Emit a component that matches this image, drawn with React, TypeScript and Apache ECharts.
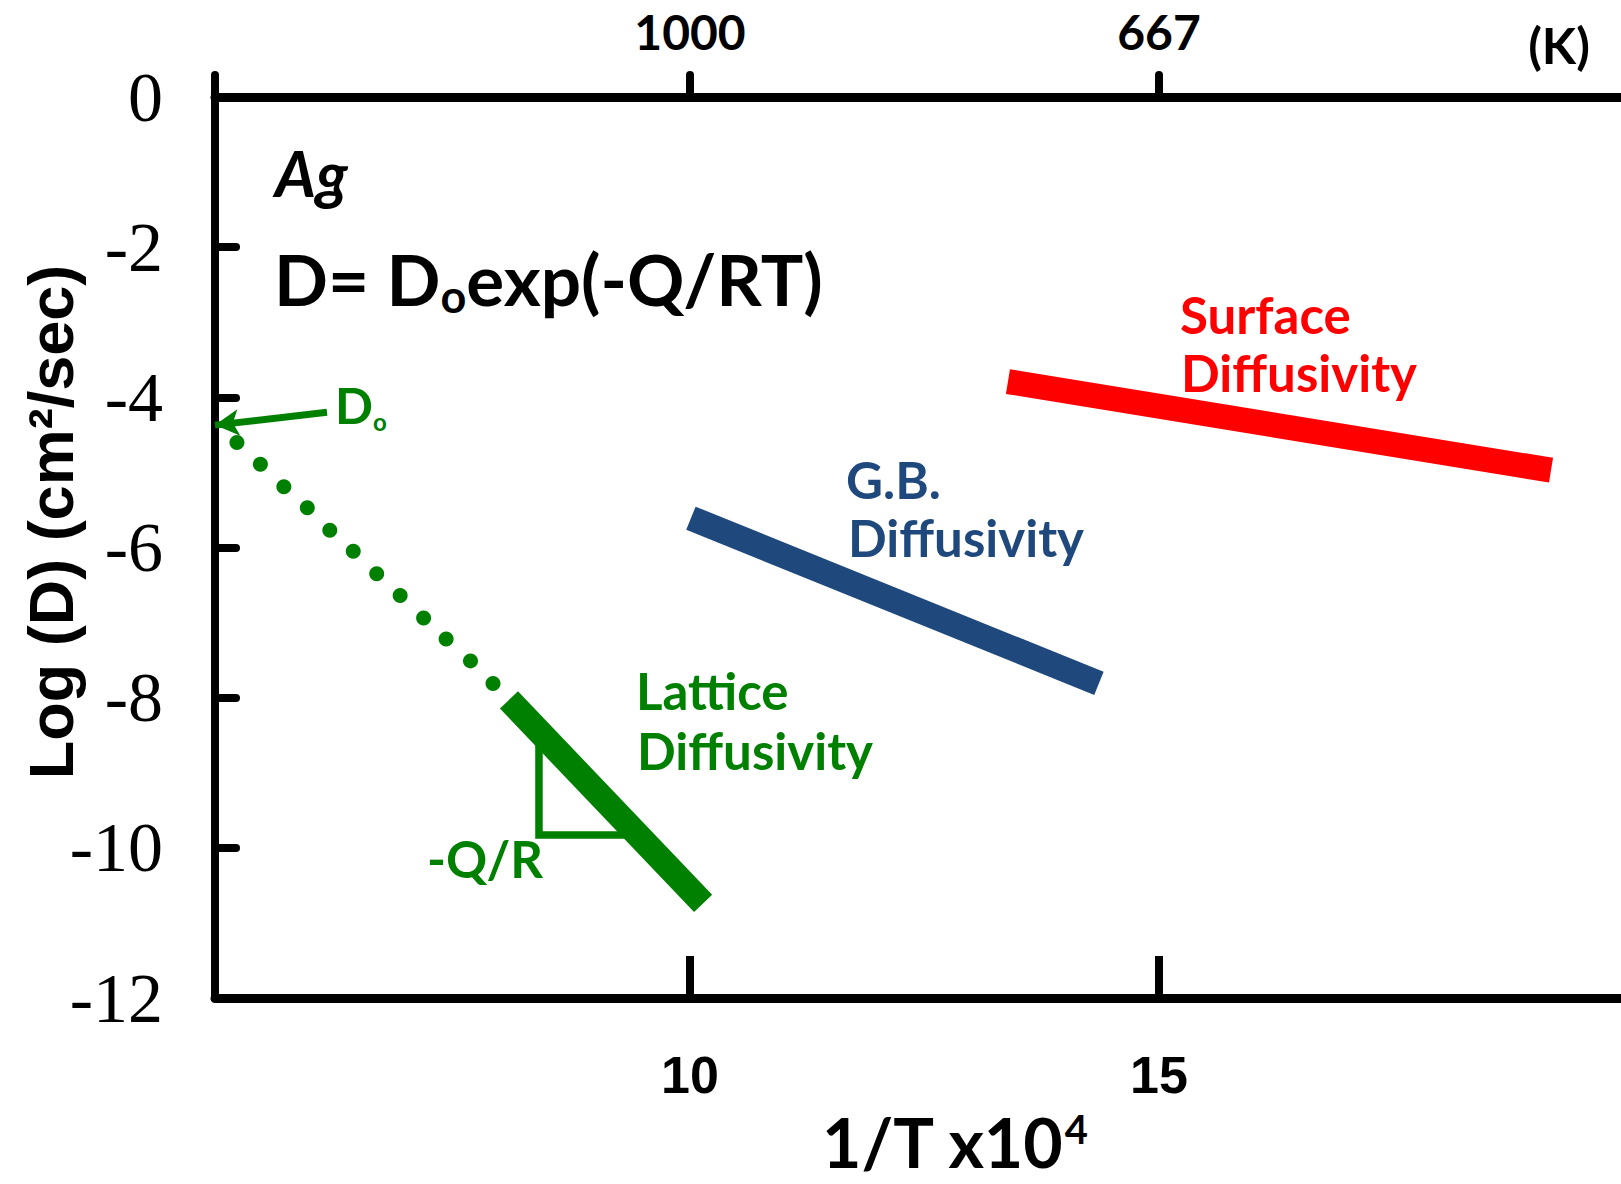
import React, { useEffect, useRef } from "react";
import * as echarts from "echarts";

// ---- axes ----
const X_MIN = 4.936;
const X_MAX = 19.926;
const Y_MIN = -12;
const Y_MAX = 0;
const Y_INTERVAL = 2;

const bottomTickValues = [10, 15];
const topTickValues = [10, 15];
const topTickLabels = ["1000", "667"];

// ---- data (1/T x10^4, log D) ----
const latticeLine = [
  [8.07, -8.03],
  [10.14, -10.74],
];
const gbLine = [
  [10.01, -5.61],
  [14.36, -7.81],
];
const surfaceLine = [
  [13.39, -3.79],
  [19.18, -4.97],
];
const extrapolationDots = [
  [5.17, -4.6],
  [5.42, -4.89],
  [5.67, -5.19],
  [5.92, -5.47],
  [6.16, -5.77],
  [6.41, -6.05],
  [6.66, -6.35],
  [6.91, -6.64],
  [7.16, -6.94],
  [7.4, -7.22],
  [7.66, -7.51],
  [7.9, -7.81],
];
const slopeTriangle = [
  [8.39, -8.44],
  [8.39, -9.83],
  [9.36, -9.83],
];
const d0ArrowFrom = [6.13, -4.2];
const d0ArrowTo = [X_MIN, -4.37];

const GREEN = "#008000";
const BLUE = "#1F497D";
const RED = "#FF0000";
const FONT = "Lato, 'Open Sans', 'DejaVu Sans', sans-serif";

function txt(x: number, y: number, text: string, fill: string, size: number, extra: any = {}) {
  return {
    type: "text",
    x,
    y,
    z: 100,
    style: {
      text,
      fill,
      fontSize: size,
      fontFamily: FONT,
      fontWeight: "bold",
      align: "left",
      verticalAlign: "middle",
      ...extra,
    },
  };
}

export default function App() {
  const ref = useRef<HTMLDivElement>(null);

  useEffect(() => {
    if (!ref.current) return;
    const chart = echarts.init(ref.current, null, { renderer: "svg" });

    const option: any = {
      animation: false,
      backgroundColor: "#fff",
      grid: { left: 215, right: 0, top: 97, bottom: 186, containLabel: false },
      xAxis: [
        {
          type: "value",
          position: "bottom",
          min: X_MIN,
          max: X_MAX,
          axisLine: { show: true, onZero: false, lineStyle: { color: "#000", width: 9 } },
          axisTick: {
            show: true,
            inside: true,
            length: 42,
            customValues: bottomTickValues,
            lineStyle: { color: "#000", width: 8 },
          },
          axisLabel: {
            show: true,
            customValues: bottomTickValues,
            margin: 51,
            fontFamily: "'Liberation Sans', Arial, sans-serif",
            fontWeight: "bold",
            fontSize: 52,
            color: "#000",
            formatter: (v: number) => String(v),
          },
          splitLine: { show: false },
        },
        {
          type: "value",
          position: "top",
          min: X_MIN,
          max: X_MAX,
          axisLine: { show: true, onZero: false, lineStyle: { color: "#000", width: 9 } },
          axisTick: {
            show: true,
            inside: false,
            length: 22,
            customValues: [X_MIN, ...topTickValues],
            lineStyle: { color: "#000", width: 8, cap: "round" },
          },
          axisLabel: {
            show: true,
            customValues: topTickValues,
            margin: 42,
            fontFamily: FONT,
            fontWeight: "bold",
            fontSize: 48,
            color: "#000",
            formatter: (v: number) => {
              const i = topTickValues.findIndex((t) => Math.abs(t - v) < 1e-6);
              return i >= 0 ? topTickLabels[i] : "";
            },
          },
          splitLine: { show: false },
        },
      ],
      yAxis: {
        type: "value",
        min: Y_MIN,
        max: Y_MAX,
        interval: Y_INTERVAL,
        axisLine: { show: true, onZero: false, lineStyle: { color: "#000", width: 8, cap: "round" } },
        axisTick: {
          show: true,
          inside: true,
          length: 21,
          lineStyle: { color: "#000", width: 8, cap: "round" },
        },
        axisLabel: {
          show: true,
          margin: 52,
          fontFamily: "'Liberation Serif', 'Times New Roman', serif",
          fontSize: 70,
          color: "#000",
          formatter: (v: number) => String(v),
        },
        splitLine: { show: false },
      },
      series: [
        {
          name: "slope",
          type: "line",
          data: slopeTriangle,
          symbol: "none",
          z: 1,
          lineStyle: { color: GREEN, width: 7.5, cap: "butt", join: "miter" },
          silent: true,
        },
        {
          name: "Lattice",
          type: "line",
          data: latticeLine,
          symbol: "none",
          z: 3,
          lineStyle: { color: GREEN, width: 25, cap: "butt" },
          silent: true,
        },
        {
          name: "Extrapolation",
          type: "scatter",
          data: extrapolationDots,
          symbol: "circle",
          symbolSize: 15,
          z: 3,
          itemStyle: { color: GREEN, opacity: 1 },
          silent: true,
          markLine: {
            silent: true,
            symbol: ["none", "arrow"],
            symbolSize: [20, 24],
            label: { show: false },
            lineStyle: { color: GREEN, width: 7, type: "solid", opacity: 1 },
            data: [[{ coord: d0ArrowFrom }, { coord: d0ArrowTo }]],
          },
        },
        {
          name: "G.B.",
          type: "line",
          data: gbLine,
          symbol: "none",
          z: 3,
          lineStyle: { color: BLUE, width: 25, cap: "butt" },
          silent: true,
        },
        {
          name: "Surface",
          type: "line",
          data: surfaceLine,
          symbol: "none",
          z: 3,
          lineStyle: { color: RED, width: 25, cap: "butt" },
          silent: true,
        },
      ],
      graphic: [
        txt(275, 172, "Ag", "#000", 63, { fontStyle: "italic" }),
        {
          type: "text",
          x: 274,
          y: 278,
          z: 100,
          style: {
            text: "{a|D= D}{s|o}{a|exp(-Q/RT)}",
            align: "left",
            verticalAlign: "middle",
            rich: {
              a: { fontSize: 71, lineHeight: 80, fontFamily: FONT, fontWeight: "bold", fill: "#000" },
              s: { fontSize: 45, lineHeight: 40, fontFamily: FONT, fontWeight: "bold", fill: "#000", verticalAlign: "bottom" },
            },
          },
        },
        txt(1180, 314, "Surface", RED, 51),
        txt(1181, 372, "Diffusivity", RED, 51),
        txt(846, 479, "G.B.", BLUE, 51),
        txt(848, 537, "Diffusivity", BLUE, 51),
        txt(636, 690, "Lattice", GREEN, 51),
        txt(637, 750, "Diffusivity", GREEN, 51),
        txt(427, 858, "-Q/R", GREEN, 51),
        {
          type: "text",
          x: 335,
          y: 405,
          z: 100,
          style: {
            text: "{a|D}{s|o}",
            align: "left",
            verticalAlign: "middle",
            rich: {
              a: { fontSize: 50, lineHeight: 56, fontFamily: FONT, fontWeight: "bold", fill: GREEN },
              s: { fontSize: 24, lineHeight: 11, fontFamily: FONT, fontWeight: "bold", fill: GREEN, verticalAlign: "bottom" },
            },
          },
        },
        {
          type: "text",
          x: 1559,
          y: 45,
          z: 100,
          style: {
            text: "(K)",
            fill: "#000",
            fontSize: 50,
            fontFamily: FONT,
            fontWeight: "bold",
            align: "center",
            verticalAlign: "middle",
          },
        },
        {
          type: "text",
          x: 822,
          y: 1141,
          z: 100,
          style: {
            text: "{a|1/T x10}{s|4}",
            align: "left",
            verticalAlign: "middle",
            rich: {
              a: { fontSize: 68, lineHeight: 64, fontFamily: FONT, fontWeight: "bold", fill: "#000" },
              s: { fontSize: 40, lineHeight: 52, fontFamily: FONT, fontWeight: "bold", fill: "#000", verticalAlign: "top" },
            },
          },
        },
        {
          type: "text",
          x: 51,
          y: 522,
          rotation: Math.PI / 2,
          z: 100,
          style: {
            text: "Log (D) (cm²/sec)",
            fill: "#000",
            fontSize: 63,
            fontFamily: "'Liberation Sans', Arial, sans-serif",
            fontWeight: "bold",
            align: "center",
            verticalAlign: "middle",
          },
        },
      ],
    };

    chart.setOption(option);
    return () => chart.dispose();
  }, []);

  return (
    <div
      ref={ref}
      style={{ position: "fixed", left: 0, top: 0, width: 1621, height: 1184, background: "#fff" }}
    />
  );
}
